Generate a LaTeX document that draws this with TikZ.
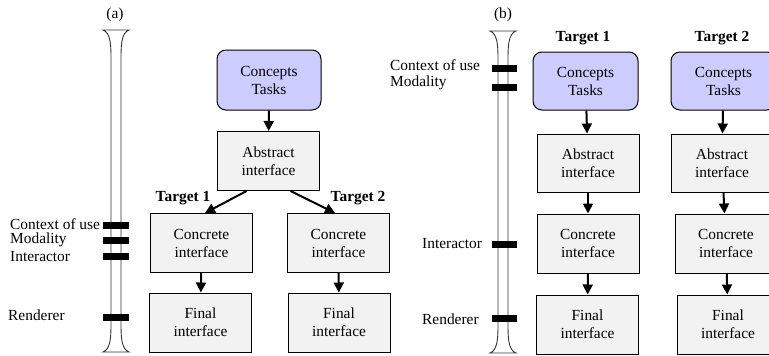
\documentclass[tikz,border=0pt]{standalone}
\usepackage{fontspec}
\setmainfont{Liberation Serif}
\usetikzlibrary{arrows.meta}

\tikzset{
  stage/.style={draw, line width=1pt, fill=gray!10, minimum width=102pt, minimum height=59pt, align=center, inner sep=2pt},
  task/.style={stage, fill=blue!20, rounded corners=9pt},
  bar/.style={fill=black, minimum width=26pt, minimum height=7pt, inner sep=0pt},
  flow/.style={-{Triangle[length=10pt,width=10pt]}, line width=2pt},
  tube/.style={draw=black!80, line width=0.9pt, fill=white},
  lbl/.style={anchor=west, inner sep=0pt},
  target/.style={font=\fontsize{15.4}{18}\selectfont\bfseries},
}

\begin{document}
\begin{tikzpicture}[x=1pt, y=-1pt, font=\fontsize{15.4}{18}\selectfont]

        \clip (0,0) rectangle (769,356);

        % the two scales
        \foreach \x/\t/\b in {116/30/352, 503/31/353} {
          \draw[tube] (\x-13,\t) .. controls (\x-6,\t+3) and (\x-5,\t+12) .. (\x-5,\t+28)
            -- (\x-5,\b-28) .. controls (\x-5,\b-12) and (\x-6,\b-3) .. (\x-13,\b)
            -- (\x+13,\b) .. controls (\x+6,\b-3) and (\x+5,\b-12) .. (\x+5,\b-28)
            -- (\x+5,\t+28) .. controls (\x+5,\t+12) and (\x+6,\t+3) .. (\x+13,\t) -- cycle;
        }

        % (a)
        \node (capA) at (115,15) {(a)};
        \foreach \y/\n in {225/ctx, 240/mod, 256/int, 317/ren}
          \node[bar] (\n A) at (116,\y) {};
        \node[lbl] (lctxA) at (10,224) {Context of use};
        \node[lbl] (lmodA) at (10,240) {Modality};
        \node[lbl] (lintA) at (10,257) {Interactor};
        \node[lbl] (lrenA) at (8,315) {Renderer};

        \node[task, minimum width=104pt, minimum height=60pt] (conA) at (269,80) {Concepts\\Tasks};
        \node[stage] (absA) at (268.5,161) {Abstract\\interface};
        \node[stage] (concA1) at (201.5,243) {Concrete\\interface};
        \node[stage] (concA2) at (338.5,243) {Concrete\\interface};
        \node[stage] (finA1) at (200.5,322.5) {Final\\interface};
        \node[stage] (finA2) at (339,322.5) {Final\\interface};
        \node[target] (tgtA1) at (183,198) {Target 1};
        \node[target] (tgtA2) at (358,198) {Target 2};

        \draw[flow] (conA) -- (absA);
        \draw[flow] ([xshift=-22pt]absA.south) -- ([xshift=3.5pt]concA1.north);
        \draw[flow] ([xshift=22pt]absA.south) -- ([xshift=-3.5pt]concA2.north);
        \draw[flow] (concA1) -- (finA1);
        \draw[flow] (concA2) -- (finA2);

        % (b)
        \node (capB) at (503,15) {(b)};
        \foreach \y/\n in {68/ctx, 87/mod, 244/int, 318/ren}
          \node[bar, minimum width=25pt] (\n B) at (504.5,\y) {};
        \node[lbl] (lctxB) at (390,65) {Context of use};
        \node[lbl] (lmodB) at (390,83) {Modality};
        \node[lbl] (lintB) at (422,244) {Interactor};
        \node[lbl] (lrenB) at (422,319) {Renderer};

        \node[target] (tgtB1) at (583,38) {Target 1};
        \node[target] (tgtB2) at (722,38) {Target 2};
        \node[task, minimum width=105pt, minimum height=58pt] (conB1) at (585.5,81) {Concepts\\Tasks};
        \node[task, minimum width=105pt, minimum height=58pt] (conB2) at (723.5,81) {Concepts\\Tasks};
        \node[stage, minimum height=58pt] (absB1) at (588,163) {Abstract\\interface};
        \node[stage, minimum height=58pt] (absB2) at (722,163) {Abstract\\interface};
        \node[stage] (concB1) at (588,243.5) {Concrete\\interface};
        \node[stage] (concB2) at (726,243.5) {Concrete\\interface};
        \node[stage] (finB1) at (587.5,324.5) {Final\\interface};
        \node[stage] (finB2) at (728,324.5) {Final\\interface};

        \foreach \a/\b in {conB1/absB1, absB1/concB1, concB1/finB1, conB2/absB2, absB2/concB2, concB2/finB2}
          \draw[flow] (\a) -- (\b);

\end{tikzpicture}
\end{document}
